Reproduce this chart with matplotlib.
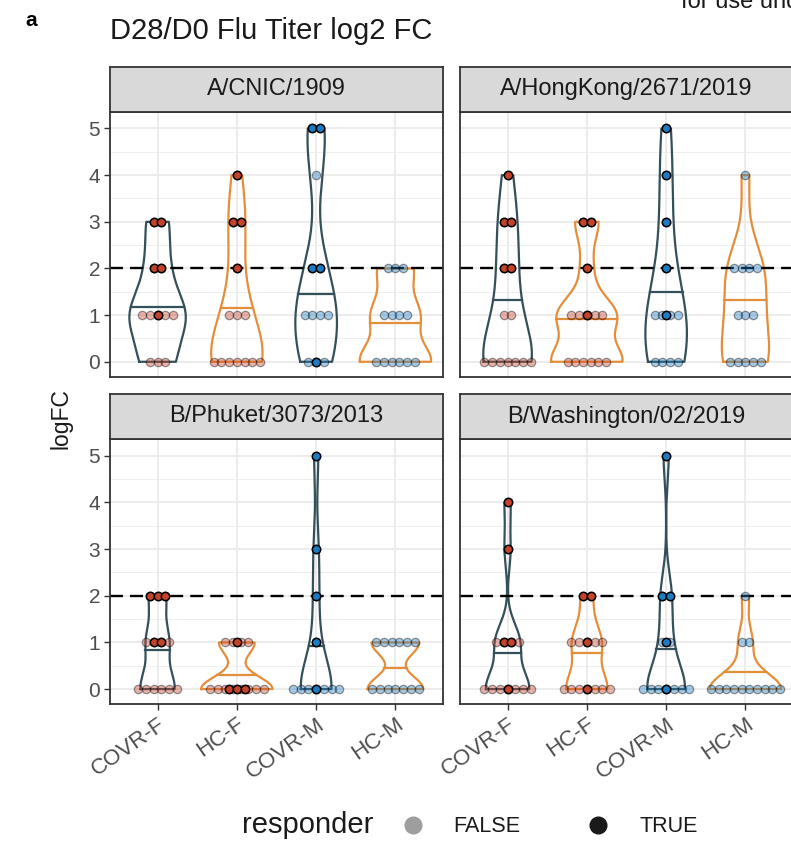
import numpy as np
import matplotlib.pyplot as plt
from matplotlib.lines import Line2D

plt.rcParams['font.family'] = ['Liberation Sans', 'DejaVu Sans']

strains = ["A/CNIC/1909", "A/HongKong/2671/2019",
           "B/Phuket/3073/2013", "B/Washington/02/2019"]
groups = ["COVR-F", "HC-F", "COVR-M", "HC-M"]
levels = [0, 1, 2, 3, 4, 5]

# subjects per logFC level (0..5) for each group, all subjects / responders
cnic_all = [[3, 5, 2, 2, 0, 0], [7, 3, 1, 2, 1, 0], [3, 4, 2, 0, 1, 2], [6, 4, 3, 0, 0, 0]]
cnic_resp = [[0, 1, 2, 2, 0, 0], [0, 0, 1, 2, 1, 0], [1, 0, 2, 0, 0, 2], [0, 0, 0, 0, 0, 0]]
hk_all = [[7, 2, 2, 2, 1, 0], [6, 5, 1, 2, 0, 0], [4, 4, 1, 1, 1, 1], [5, 3, 4, 0, 1, 0]]
hk_resp = [[0, 0, 2, 2, 1, 0], [0, 1, 1, 2, 0, 0], [0, 1, 1, 1, 1, 1], [0, 0, 0, 0, 0, 0]]
phuket_all = [[6, 4, 3, 0, 0, 0], [8, 4, 0, 0, 0, 0], [7, 1, 1, 1, 0, 1], [7, 6, 0, 0, 0, 0]]
phuket_resp = [[0, 2, 3, 0, 0, 0], [3, 1, 0, 0, 0, 0], [1, 1, 1, 1, 0, 1], [0, 0, 0, 0, 0, 0]]
wash_all = [[7, 4, 0, 1, 1, 0], [7, 5, 2, 0, 0, 0], [7, 2, 2, 0, 0, 1], [10, 2, 1, 0, 0, 0]]
wash_resp = [[1, 2, 0, 1, 1, 0], [1, 1, 2, 0, 0, 0], [1, 1, 2, 0, 0, 1], [0, 0, 0, 0, 0, 0]]

panels = [(cnic_all, cnic_resp), (hk_all, hk_resp),
          (phuket_all, phuket_resp), (wash_all, wash_resp)]

violin_col = {"COVR": "#34505A", "HC": "#E58E3A"}
dot_col = {"F": "#C4432B", "M": "#1E7BC2"}


def bw_nrd0(x):
    hi = np.std(x, ddof=1)
    q75, q25 = np.percentile(x, [75, 25])
    lo = min(hi, (q75 - q25) / 1.34)
    if lo == 0:
        lo = hi or abs(x[0]) or 1
    return 0.9 * lo * len(x) ** -0.2


def density(x):
    y = np.linspace(x.min(), x.max(), 512)
    bw = bw_nrd0(x)
    d = np.exp(-0.5 * ((y[:, None] - x[None, :]) / bw) ** 2).sum(1)
    d /= len(x) * bw * np.sqrt(2 * np.pi)
    return y, d


W, H = 791, 842
fig = plt.figure(figsize=(W / 100, H / 100), dpi=100)


def fx(px):
    return px / W


def fy(py):
    return 1 - py / H


ax_w = 333
ax_h = 265
lefts = [110, 460]
tops = [111.7, 439]
strip_h = 45

dx = 0.097
for k, (strain, (counts, resp)) in enumerate(zip(strains, panels)):
    r, c = divmod(k, 2)
    left, top = lefts[c], tops[r]
    ax = fig.add_axes([fx(left), fy(top + ax_h), ax_w / W, ax_h / H])
    ax.set_xlim(0.4, 4.6)
    ax.set_ylim(-0.32, 5.36)

    # grid
    for v in np.arange(0.5, 5.5, 1):
        ax.axhline(v, color="#EBEBEB", lw=0.6, zorder=0)
    for v in levels:
        ax.axhline(v, color="#EBEBEB", lw=1.3, zorder=0)
    for i in range(1, 5):
        ax.axvline(i, color="#EBEBEB", lw=1.3, zorder=0)

    # violins, scaled by area within the panel
    dens = []
    for g in range(4):
        x = np.repeat(levels, counts[g]).astype(float)
        dens.append(density(x))
    dmax = max(d.max() for _, d in dens)
    for g, name in enumerate(groups):
        y, d = dens[g]
        hw = 0.45 * d / dmax
        col = violin_col[name.split("-")[0]]
        pos = g + 1
        ax.plot(np.r_[pos - hw, (pos + hw)[::-1], pos - hw[0]],
                np.r_[y, y[::-1], y[0]], color=col, lw=1.6, zorder=2,
                solid_joinstyle="round")
        cdf = np.cumsum(d) / d.sum()
        ym = np.interp(0.5, cdf, y)
        wm = 0.45 * np.interp(ym, y, d) / dmax
        ax.plot([pos - wm, pos + wm], [ym, ym], color=col, lw=1.6, zorder=2)

    ax.axhline(2, color="black", lw=1.7, ls=(0, (5.5, 3)), zorder=3)

    # dots: all subjects faded, responders on top
    for g, name in enumerate(groups):
        col = dot_col[name[-1]]
        pos = g + 1
        for lv in levels:
            n = counts[g][lv]
            if n:
                xs = pos + (np.arange(n) - (n - 1) / 2) * dx
                ax.scatter(xs, [lv] * n, s=36, facecolor=col, alpha=0.4,
                           edgecolor="black", lw=0.9, zorder=4)
            m = resp[g][lv]
            if m:
                xs = pos + (np.arange(m) - (m - 1) / 2) * dx
                ax.scatter(xs, [lv] * m, s=36, facecolor=col,
                           edgecolor="black", lw=1.1, zorder=5)

    for s in ax.spines.values():
        s.set_color("#333333")
        s.set_linewidth(1.3)
        s.set_zorder(6)
    ax.set_xticks(range(1, 5))
    ax.set_yticks(levels)
    ax.tick_params(colors="#333333", length=4, width=1.0,
                   labelcolor="#4D4D4D", labelsize=15, pad=3)
    if c == 0:
        ax.set_yticklabels([str(v) for v in levels])
    else:
        ax.tick_params(axis="y", length=0, labelleft=False)
    if r == 1:
        ax.set_xticklabels(groups, rotation=35, ha="right", va="top",
                           rotation_mode="anchor", fontsize=16)
    else:
        ax.tick_params(axis="x", length=0, labelbottom=False)

    # facet strip
    sax = fig.add_axes([fx(left), fy(top), ax_w / W, strip_h / H])
    sax.set_facecolor("#D9D9D9")
    sax.set_xticks([])
    sax.set_yticks([])
    for s in sax.spines.values():
        s.set_color("#333333")
        s.set_linewidth(1.3)
    sax.text(0.5, 0.5, strain, ha="center", va="center", fontsize=17,
             color="#1A1A1A", transform=sax.transAxes)

fig.text(fx(25), fy(20), "a", fontsize=15, fontweight="bold", va="center")
fig.text(fx(110), fy(31), "D28/D0 Flu Titer log2 FC", fontsize=21,
         va="center", color="#1A1A1A")
fig.text(fx(681), fy(8), "for use under a CC-BY-NC-ND 4.0 International license",
         fontsize=17, va="baseline", color="#1A1A1A",
         family=["Liberation Sans Narrow", "Liberation Sans"])
fig.text(fx(61), fy(419), "logFC", fontsize=16.5, rotation=90,
         ha="center", va="center", color="#1A1A1A")

# legend
fig.text(fx(242), fy(825), "responder", fontsize=21, va="center",
         color="#1A1A1A")
fig.add_artist(Line2D([fx(413)], [fy(825)], marker="o", ms=12, ls="",
                      color="#9E9E9E", transform=fig.transFigure))
fig.text(fx(453), fy(826), "FALSE", fontsize=15.5, va="center",
         color="#1A1A1A")
fig.add_artist(Line2D([fx(598)], [fy(825)], marker="o", ms=12, ls="",
                      color="#1A1A1A", transform=fig.transFigure))
fig.text(fx(640), fy(826), "TRUE", fontsize=15.5, va="center",
         color="#1A1A1A")

fig.savefig("out.png", dpi=100)
